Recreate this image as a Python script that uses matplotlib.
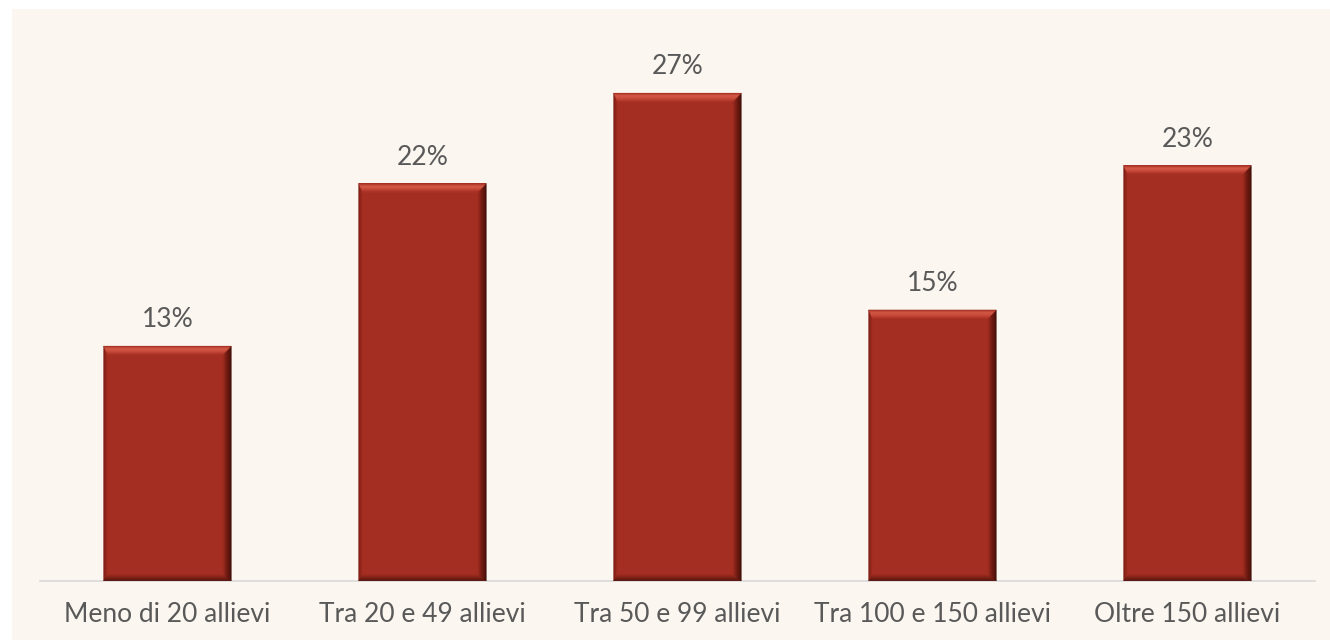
import numpy as np
import matplotlib.pyplot as plt
from matplotlib.patches import Polygon, Rectangle
from matplotlib.colors import to_rgb

# Dimensione scuole (quota percentuale)
categorie = ['Meno di 20 allievi', 'Tra 20 e 49 allievi', 'Tra 50 e 99 allievi',
             'Tra 100 e 150 allievi', 'Oltre 150 allievi']
valori = [13, 22, 27, 15, 23]

plt.rcParams['font.family'] = ['Lato', 'DejaVu Sans']

fig = plt.figure(figsize=(13.3, 6.4), dpi=100)
fig.patch.set_facecolor('white')
# cream panel behind the chart
fig.patches.append(Rectangle((12 / 1330, 0), 1 - 12 / 1330, 1 - 9 / 640,
                             transform=fig.transFigure, facecolor='#FBF6EF',
                             edgecolor='none', zorder=-10))

ax = fig.add_axes([40 / 1330, 59 / 640, 1275 / 1330, 31 * 18.07 / 640])
ax.set_facecolor('none')

x = np.arange(len(categorie))
w = 0.5
rosso = '#A52E22'
ax.bar(x, valori, width=w, color=rosso, zorder=2)

# bevel depths (in data units) and outer -> inner colours per side
px_x = w / 128
px_y = 1 / 18.07
D = {'l': 4 * px_x, 'r': 9 * px_x, 'b': 7 * px_y, 't': 9 * px_y}
cols = {
    'l': ['#7A1D13', rosso],
    'b': ['#4E120C', rosso],
    'r': ['#3A0C07', '#6E1A11', rosso],
    't': ['#9E2C20', '#D85C4A', '#C84A3A', rosso],
}


def ramp(stops, s):
    stops = [np.array(to_rgb(c)) for c in stops]
    pos = np.linspace(0, 1, len(stops))
    return tuple(np.interp(s, pos, [c[k] for c in stops]) for k in range(3))


def rect(l, r, v, s):
    return (l + s * D['l'], r - s * D['r'], s * D['b'], v - s * D['t'])


n = 10
for xi, v in zip(x, valori):
    l, r = xi - w / 2, xi + w / 2
    for i in range(n):
        s0, s1 = i / n, (i + 1) / n
        a = rect(l, r, v, s0)
        b = rect(l, r, v, s1)
        sm = (s0 + s1) / 2
        strips = {
            'l': [(a[0], a[2]), (a[0], a[3]), (b[0], b[3]), (b[0], b[2])],
            'b': [(a[0], a[2]), (a[1], a[2]), (b[1], b[2]), (b[0], b[2])],
            'r': [(a[1], a[2]), (a[1], a[3]), (b[1], b[3]), (b[1], b[2])],
            't': [(a[0], a[3]), (a[1], a[3]), (b[1], b[3]), (b[0], b[3])],
        }
        for side in ['l', 'b', 'r', 't']:
            ax.add_patch(Polygon(strips[side], closed=True,
                                 facecolor=ramp(cols[side], sm),
                                 edgecolor=ramp(cols[side], sm), lw=0.3,
                                 zorder=3))
    ax.text(xi, v + 1.45, f'{v}%', ha='center', va='center', fontsize=19,
            color='#595959')

ax.set_xlim(-0.5, 4.5)
ax.set_ylim(0, 31)
ax.set_xticks(x)
ax.set_xticklabels(categorie, fontsize=19, color='#595959')
ax.tick_params(axis='x', length=0, pad=15)
ax.set_yticks([])
for s in ['top', 'right', 'left']:
    ax.spines[s].set_visible(False)
ax.spines['bottom'].set_color('#D9D9D9')
ax.spines['bottom'].set_linewidth(1.2)

fig.savefig('out.png', dpi=100)
